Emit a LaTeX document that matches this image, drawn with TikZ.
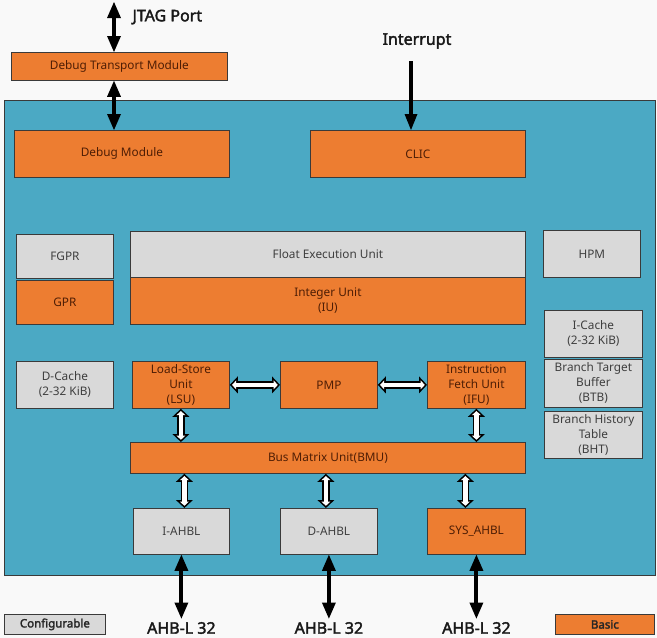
\documentclass[tikz,border=0pt]{standalone}
\usepackage{fontspec}
\setmainfont{Noto Sans}[AutoFakeBold=2.2]
\usetikzlibrary{arrows.meta,calc,positioning}
\definecolor{pagebg}{HTML}{F9F9F9}
\definecolor{corebg}{HTML}{4BA9C4}
\definecolor{orgfill}{HTML}{ED7D31}
\definecolor{orgtext}{HTML}{4F1E05}
\definecolor{cfgfill}{HTML}{D9D9D9}
\definecolor{cfgtext}{HTML}{3F3F3F}
\definecolor{edge}{HTML}{3A3A3A}

\begin{document}
\begin{tikzpicture}[x=1pt,y=-1pt,
  blk/.style={draw=edge,line width=0.8pt,anchor=north west,inner sep=0pt,align=center,font=\fontsize{11.8}{15}\selectfont},
  sz/.style 2 args={minimum width=#1,minimum height=#2},
  basic/.style={blk,fill=orgfill,text=orgtext},
  conf/.style={blk,fill=cfgfill,text=cfgtext},
  lbl/.style={text=black!90,font=\fontsize{16}{18}\selectfont\bfseries},
  key/.style={text=black!85,font=\fontsize{11.5}{13}\selectfont\bfseries},
  bigdbl/.style={line width=4pt,{Triangle[length=16pt,width=14pt,line width=0pt]}-{Triangle[length=16pt,width=14pt,line width=0pt]}},
  bigone/.style={line width=3.5pt,-{Triangle[length=16pt,width=13pt,line width=0pt]}},
  wout/.style={line width=7.5pt,{Triangle[length=8pt,width=17pt,line width=0pt]}-{Triangle[length=8pt,width=17pt,line width=0pt]}},
  win/.style={white,line width=4.3pt,shorten <=2.2pt,shorten >=2.2pt,{Triangle[length=4.2pt,width=8.9pt,line width=0pt]}-{Triangle[length=4.2pt,width=8.9pt,line width=0pt]}}]
\useasboundingbox (0,0) rectangle (657,638);
\fill[pagebg] (0,0) rectangle (657,638);
% debug path and core frame
\node[basic,sz={216pt}{28pt}] (dtm) at (11,52) {Debug Transport Module};
\node[draw=edge,line width=0.8pt,fill=corebg,anchor=north west,inner sep=0pt,sz={651pt}{475pt}] (core) at (4,100) {};
\node[basic,sz={215pt}{47pt}] (dbgm) at (14,130) {Debug Module};
\node[basic,sz={215pt}{47pt}] (clic) at (310,130) {CLIC};
% register files and execution units
\node[conf,sz={97pt}{44pt}] (fgpr) at (16,234) {FGPR};
\node[basic,sz={97pt}{44pt}] (gpr) at (16,280) {GPR};
\node[conf,sz={395pt}{46pt}] (feu) at (130,231) {Float Execution Unit};
\node[basic,sz={395pt}{47pt}] (iu) at (130,277) {Integer Unit\\(IU)};
\node[conf,sz={97pt}{47pt}] (hpm) at (543,230) {HPM};
\node[conf,sz={98pt}{47pt}] (icache) at (544,310) {I-Cache\\(2-32 KiB)};
\node[conf,sz={98pt}{48pt}] (btb) at (544,359) {Branch Target\\Buffer\\(BTB)};
\node[conf,sz={98pt}{47pt}] (bht) at (544,411) {Branch History\\Table\\(BHT)};
\node[conf,sz={97pt}{47pt}] (dcache) at (16,361) {D-Cache\\(2-32 KiB)};
\node[basic,sz={97pt}{47pt}] (lsu) at (132,361) {Load-Store\\Unit\\(LSU)};
\node[basic,sz={97pt}{47pt}] (pmp) at (280,361) {PMP};
\node[basic,sz={98pt}{47pt}] (ifu) at (427,361) {Instruction\\Fetch Unit\\(IFU)};
% bus side
\node[basic,sz={395pt}{31pt}] (bmu) at (130,442) {Bus Matrix Unit(BMU)};
\node[conf,sz={96pt}{46pt}] (iahbl) at (133,508) {I-AHBL};
\node[conf,sz={97pt}{46pt}] (dahbl) at (280,508) {D-AHBL};
\node[basic,sz={98pt}{46pt}] (sahbl) at (427,508) {SYS\_AHBL};
% outside labels
\coordinate (jtagtop) at (114,2);
\coordinate (irqtop) at (411,61);
\coordinate (ahbrow) at (0,628);
\node[lbl,anchor=west] (jtag) at (129,17) {JTAG Port};
\node[lbl] (irq) at (417,41) {Interrupt};
\node[lbl] (ahbi) at (iahbl |- ahbrow) {AHB-L 32};
\node[lbl] (ahbd) at (dahbl |- ahbrow) {AHB-L 32};
\node[lbl] (ahbs) at (sahbl |- ahbrow) {AHB-L 32};
\node[conf,key,sz={101pt}{20pt}] (cfgkey) at (4,614) {Configurable};
\node[basic,key,sz={99pt}{20pt}] (basickey) at (555,614) {Basic};
% black connectors
\draw[bigdbl] (jtagtop) -- (jtagtop |- dtm.north);
\draw[bigdbl] (jtagtop |- dtm.south) -- (jtagtop |- dbgm.north);
\draw[bigone] (irqtop) -- (irqtop |- clic.north);
\foreach \n/\m in {iahbl/ahbi,dahbl/ahbd,sahbl/ahbs}
  \draw[bigdbl] (\n.south) -- (\n.south |- \m.north);
% white connectors
\foreach \a/\b in {lsu/pmp,pmp/ifu}{
  \draw[wout] (\a) -- (\b);
  \draw[win] (\a) -- (\b);
}
\foreach \n in {lsu,ifu}{
  \draw[wout] (\n.south) -- (\n.south |- bmu.north);
  \draw[win] (\n.south) -- (\n.south |- bmu.north);
}
\foreach \n/\dx in {iahbl/3pt,dahbl/-3pt,sahbl/-11pt}{
  \draw[wout] ([xshift=\dx]\n.north |- bmu.south) -- ([xshift=\dx]\n.north);
  \draw[win] ([xshift=\dx]\n.north |- bmu.south) -- ([xshift=\dx]\n.north);
}
\end{tikzpicture}
\end{document}
